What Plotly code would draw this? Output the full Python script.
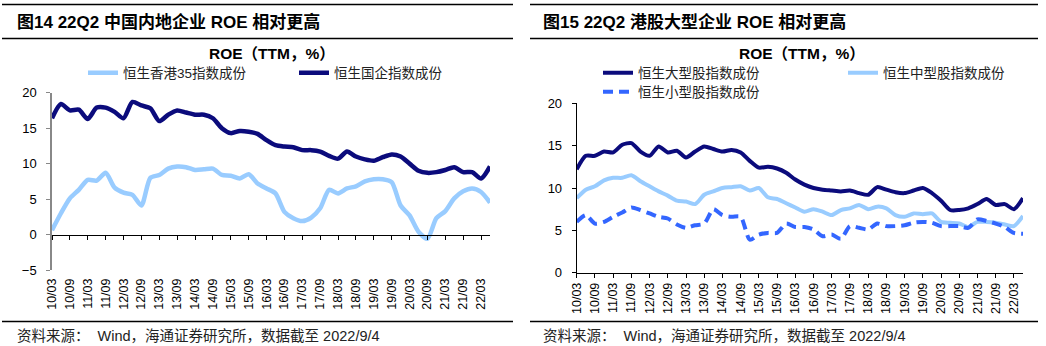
import plotly.graph_objects as go

W, H = 1046, 346

quarters = ["10/03", "10/06", "10/09", "10/12", "11/03", "11/06", "11/09", "11/12",
            "12/03", "12/06", "12/09", "12/12", "13/03", "13/06", "13/09", "13/12",
            "14/03", "14/06", "14/09", "14/12", "15/03", "15/06", "15/09", "15/12",
            "16/03", "16/06", "16/09", "16/12", "17/03", "17/06", "17/09", "17/12",
            "18/03", "18/06", "18/09", "18/12", "19/03", "19/06", "19/09", "19/12",
            "20/03", "20/06", "20/09", "20/12", "21/03", "21/06", "21/09", "21/12",
            "22/03", "22/06"]
tick_labels = ["10/03", "10/09", "11/03", "11/09", "12/03", "12/09", "13/03", "13/09",
               "14/03", "14/09", "15/03", "15/09", "16/03", "16/09", "17/03", "17/09",
               "18/03", "18/09", "19/03", "19/09", "20/03", "20/09", "21/03", "21/09",
               "22/03"]

# Left chart: 恒生香港35指数成份 / 恒生国企指数成份
hk35 = [0.6, 3.0, 5.1, 6.3, 7.7, 7.6, 8.7, 6.6, 5.9, 5.6,
        4.1, 8.0, 8.4, 9.3, 9.6, 9.5, 9.1, 9.2, 9.3, 8.4,
        8.3, 7.9, 8.5, 7.2, 6.5, 5.8, 3.2, 2.3, 1.9, 2.4,
        3.7, 6.3, 5.8, 6.5, 6.8, 7.5, 7.8, 7.8, 7.4, 4.1,
        2.7, 0.4, -0.6, 2.3, 3.3, 5.1, 6.1, 6.5, 6.0, 4.5]
hscei = [16.4, 18.4, 17.5, 17.6, 16.3, 17.9, 17.9, 17.3, 16.4, 18.7,
         18.2, 17.8, 16.0, 16.9, 17.5, 17.2, 16.9, 16.9, 16.4, 15.0,
         14.3, 14.6, 14.5, 14.2, 13.3, 12.6, 12.4, 12.3, 11.9, 11.9,
         11.7, 11.1, 10.7, 11.7, 11.0, 10.6, 10.4, 10.9, 11.3, 11.0,
         10.0, 9.0, 8.7, 8.8, 9.1, 9.5, 8.8, 8.8, 7.9, 9.6]

# Right chart: 恒生大型/中型/小型股指数成份
large = [12.2, 13.8, 13.8, 14.3, 14.2, 15.1, 15.3, 14.3, 13.8, 14.9,
         14.2, 14.4, 13.6, 14.3, 14.9, 14.6, 14.3, 14.5, 14.2, 13.2,
         12.4, 12.5, 12.3, 11.8, 11.0, 10.4, 10.0, 9.8, 9.7, 9.6,
         9.7, 9.4, 9.2, 10.1, 9.8, 9.5, 9.4, 9.7, 10.0, 9.4,
         8.5, 7.4, 7.4, 7.6, 8.1, 8.7, 8.0, 8.1, 7.5, 8.8]
mid = [8.8, 9.8, 10.2, 10.9, 11.2, 11.2, 11.5, 10.8, 10.2, 9.6,
       9.1, 8.5, 8.4, 8.1, 9.2, 9.6, 10.0, 10.1, 10.2, 9.7,
       10.0, 8.9, 8.7, 8.2, 7.7, 7.2, 7.5, 7.2, 6.8, 7.4,
       7.6, 8.0, 7.5, 7.8, 7.6, 6.8, 6.6, 7.0, 6.9, 7.0,
       6.0, 5.9, 5.8, 5.4, 6.0, 6.0, 5.9, 5.7, 5.5, 6.7]
small = [6.0, 6.8, 5.8, 6.0, 6.6, 7.1, 7.7, 7.4, 7.0, 6.6,
         6.4, 5.7, 5.3, 5.6, 5.8, 7.5, 6.8, 6.6, 6.6, 3.9,
         4.5, 4.7, 4.7, 5.8, 5.4, 5.4, 5.1, 4.3, 4.5, 4.0,
         5.5, 5.3, 5.1, 5.8, 5.5, 5.5, 5.6, 5.9, 6.0, 5.9,
         5.5, 5.5, 5.5, 5.3, 6.3, 6.1, 5.8, 5.4, 4.7, 4.6]

NAVY = "#0B0B7C"
LIGHT = "#99CCFF"
BLUE = "#3366FF"
FONT = "Liberation Sans, Arial, Noto Sans CJK SC, sans-serif"
CJK = "Liberation Sans, Noto Sans CJK SC, sans-serif"

idx = list(range(len(quarters)))
tickpos = [quarters.index(t) for t in tick_labels]


def px(x):
    return x / W


def py(y):
    return 1 - y / H


fig = go.Figure()

# Left chart traces
fig.add_trace(go.Scatter(x=idx, y=hk35, name="恒生香港35指数成份", mode="lines",
                         line=dict(color=LIGHT, width=4.5, shape="spline", smoothing=0.7),
                         xaxis="x2", yaxis="y", legend="legend", hoverinfo="skip"))
fig.add_trace(go.Scatter(x=idx, y=hscei, name="恒生国企指数成份", mode="lines",
                         line=dict(color=NAVY, width=4.5, shape="spline", smoothing=0.7),
                         xaxis="x", yaxis="y", legend="legend", hoverinfo="skip"))

# Right chart traces
fig.add_trace(go.Scatter(x=idx, y=large, name="恒生大型股指数成份", mode="lines",
                         line=dict(color=NAVY, width=4, shape="spline", smoothing=0.7),
                         xaxis="x3", yaxis="y3", legend="legend2", hoverinfo="skip"))
fig.add_trace(go.Scatter(x=idx, y=mid, name="恒生中型股指数成份", mode="lines",
                         line=dict(color=LIGHT, width=4, shape="spline", smoothing=0.7),
                         xaxis="x3", yaxis="y3", legend="legend2", hoverinfo="skip"))
fig.add_trace(go.Scatter(x=idx, y=small, name="恒生小型股指数成份", mode="lines",
                         line=dict(color=BLUE, width=4, shape="spline", smoothing=0.7,
                                   dash="10px,6px"),
                         xaxis="x3", yaxis="y3", legend="legend3", hoverinfo="skip"))

# Geometry (pixel-based domains)
L_x0, L_x1 = 52, 490
L_ytop, L_ybot = 92.7, 270
R_x0, R_x1 = 576.7, 1023
R_ytop, R_ybot = 103.3, 272.7

ly_dom = [py(L_ybot), py(L_ytop)]
ry_dom = [py(R_ybot), py(R_ytop)]
zero_pos = ly_dom[0] + (0 - (-5)) / 25 * (ly_dom[1] - ly_dom[0])

tickfont_y = dict(family=FONT, size=13, color="#000")
tickfont_x = dict(family=FONT, size=12.5, color="#000")

fig.update_layout(
    width=W, height=H,
    margin=dict(l=0, r=0, t=0, b=0, autoexpand=False),
    paper_bgcolor="white", plot_bgcolor="white",
    font=dict(family=CJK, color="#000"),
    xaxis=dict(domain=[px(L_x0), px(L_x1)], range=[0, len(quarters) - 1], anchor="y",
               tickmode="array", tickvals=tickpos, ticktext=tick_labels, tickangle=-90,
               showline=False, ticks="", showgrid=False, zeroline=False,
               tickfont=tickfont_x, ticklabelstandoff=5, automargin=False),
    xaxis2=dict(domain=[px(L_x0), px(L_x1)], range=[0, len(quarters) - 1],
                overlaying="x", anchor="free", position=zero_pos,
                tickmode="array", tickvals=tickpos, showticklabels=False,
                showline=True, linecolor="#000", linewidth=1,
                ticks="outside", ticklen=4, tickcolor="#000", tickwidth=1,
                showgrid=False, zeroline=False, automargin=False),
    yaxis=dict(domain=ly_dom, range=[-5, 20], anchor="x",
               tickmode="array", tickvals=[-5, 0, 5, 10, 15, 20],
               showline=True, linecolor="#888", linewidth=1.5,
               ticks="outside", ticklen=4, tickcolor="#888",
               showgrid=False, zeroline=False, tickfont=tickfont_y,
               ticklabelstandoff=7, automargin=False),
    xaxis3=dict(domain=[px(R_x0), px(R_x1)], range=[0, len(quarters) - 1], anchor="y3",
                tickmode="array", tickvals=tickpos, ticktext=tick_labels, tickangle=-90,
                showline=True, linecolor="#000", linewidth=1,
                ticks="outside", ticklen=4, tickcolor="#000",
                showgrid=False, zeroline=False, tickfont=tickfont_x, automargin=False),
    yaxis3=dict(domain=ry_dom, range=[0, 20], anchor="x3",
                tickmode="array", tickvals=[0, 5, 10, 15, 20],
                showline=True, linecolor="#000", linewidth=1,
                ticks="outside", ticklen=4, tickcolor="#000",
                showgrid=False, zeroline=False, tickfont=tickfont_y,
                ticklabelstandoff=7, automargin=False),
    legend=dict(orientation="h", x=px(83), xanchor="left", y=py(73), yanchor="middle",
                entrywidth=166, entrywidthmode="pixels",
                font=dict(family=CJK, size=13.5, color="#222"),
                bgcolor="rgba(0,0,0,0)", itemclick=False, itemdoubleclick=False),
    legend2=dict(orientation="h", x=px(598), xanchor="left", y=py(73), yanchor="middle",
                 entrywidth=200, entrywidthmode="pixels",
                 font=dict(family=CJK, size=13.5, color="#222"),
                 bgcolor="rgba(0,0,0,0)", itemclick=False, itemdoubleclick=False),
    legend3=dict(orientation="h", x=px(598), xanchor="left", y=py(92), yanchor="middle",
                 font=dict(family=CJK, size=13.5, color="#222"),
                 bgcolor="rgba(0,0,0,0)", itemclick=False, itemdoubleclick=False),
    showlegend=True,
)

# Panel frame lines
rules = []
for (a, b) in [(2, 513), (530, 1038)]:
    for y in [4.5, 38.5, 321.5]:
        rules.append(dict(type="line", xref="paper", yref="paper",
                          x0=px(a), x1=px(b), y0=py(y), y1=py(y),
                          line=dict(color="#000", width=1.3)))
fig.update_layout(shapes=rules)

titles = [
    (15, "图14 22Q2 中国内地企业 ROE 相对更高"),
    (541, "图15 22Q2 港股大型企业 ROE 相对更高"),
]
annots = []
for x, t in titles:
    annots.append(dict(text="<b>" + t + "</b>", x=px(x), y=py(22.5), xref="paper", yref="paper",
                       xanchor="left", yanchor="middle", showarrow=False,
                       font=dict(family=CJK, size=17, color="#000")))
for cx in [272, 802]:
    annots.append(dict(text="<b>ROE（TTM，%）</b>", x=px(cx), y=py(53.5), xref="paper",
                       yref="paper", xanchor="center", yanchor="middle", showarrow=False,
                       font=dict(family=CJK, size=15.5, color="#000")))
for x in [15, 541]:
    annots.append(dict(text="资料来源：  Wind，海通证券研究所，数据截至 2022/9/4",
                       x=px(x), y=py(336), xref="paper", yref="paper",
                       xanchor="left", yanchor="middle", showarrow=False,
                       font=dict(family=CJK, size=14.5, color="#222")))
fig.update_layout(annotations=annots)

fig.write_html("out.html")
